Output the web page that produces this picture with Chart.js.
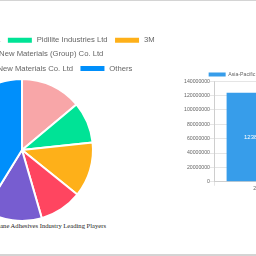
<!DOCTYPE html>
<html lang="en">
<head>
<meta charset="UTF-8">
<title>Polyurethane Adhesives Industry Leading Players</title>
<style>
  body { margin: 0; width: 256px; height: 256px; overflow: hidden; background: #fff; position: relative; }
  .frame { position: absolute; left: 0; top: 0; width: 256px; height: 253px; border-top: 1px solid #d4d4d4; border-bottom: 2px solid #d4d4d4; }
  #pieChart { position: absolute; left: -128px; top: 30px; }
  #barChart { position: absolute; left: 160px; top: 68px; }
  .caption { position: absolute; right: 150px; top: 222px; font: 6.6px 'Liberation Serif', 'Times New Roman', serif; color: #222; white-space: nowrap; }
</style>
</head>
<body>
  <div class="frame"></div>
  <canvas id="pieChart" width="300" height="192"></canvas>
  <div class="caption">Polyurethane Adhesives Industry Leading Players</div>
  <canvas id="barChart" width="144" height="124"></canvas>

  <script src="https://cdn.jsdelivr.net/npm/chart.js"></script>
  <script>
    // leading players (pie)
    const players = ['Henkel AG & Co. KGaA', 'Pidilite Industries Ltd', '3M',
      'Kangda New Materials (Group) Co. Ltd', 'Beijing Comens New Materials Co. Ltd', 'Others'];
    const shares = [13.9, 9.4, 12.5, 9.7, 13.3, 41.2];
    const playerColors = ['#F8A6A8', '#00E396', '#FEB019', '#FF4560', '#775DD0', '#008FFB'];

    // regional market (bar)
    const years = ['2024'];
    const regionName = 'Asia-Pacific';
    const marketSize = [123800000];
    const yMax = 140000000;
    const yStep = 20000000;

    Chart.defaults.font.family = "'Liberation Sans', Arial, sans-serif";
    Chart.defaults.color = '#666';

    // legend box is a bit shorter than chart.js makes it
    function legendTrim(px) {
      return {
        id: 'legendTrim',
        beforeLayout(chart) {
          const lg = chart.legend;
          if (lg && !lg._trimmed) {
            const fit = lg.fit.bind(lg);
            lg.fit = function () { fit(); this.height -= px; };
            lg._trimmed = true;
          }
        }
      };
    }

    const barValues = {
      id: 'barValues',
      afterDatasetsDraw(chart) {
        const ctx = chart.ctx;
        const ds = chart.data.datasets[0];
        chart.getDatasetMeta(0).data.forEach((bar, i) => {
          ctx.save();
          ctx.fillStyle = '#fff';
          ctx.font = "6px 'Liberation Sans', Arial, sans-serif";
          ctx.textAlign = 'center';
          ctx.textBaseline = 'middle';
          ctx.fillText(String(ds.data[i]), bar.x, (bar.y + bar.base) / 2);
          ctx.restore();
        });
      }
    };

    new Chart(document.getElementById('pieChart'), {
      type: 'pie',
      data: {
        labels: players,
        datasets: [{
          data: shares,
          backgroundColor: playerColors,
          borderColor: '#fff',
          borderWidth: 2
        }]
      },
      options: {
        responsive: false,
        animation: false,
        plugins: {
          legend: {
            labels: { boxWidth: 26, boxHeight: 7, padding: 6.4, font: { size: 7.7 } }
          },
          tooltip: { enabled: false }
        }
      },
      plugins: [legendTrim(4.3)]
    });

    new Chart(document.getElementById('barChart'), {
      type: 'bar',
      data: {
        labels: years,
        datasets: [{
          label: regionName,
          data: marketSize,
          backgroundColor: '#379DEA',
          borderWidth: 0
        }]
      },
      options: {
        responsive: false,
        animation: false,
        plugins: {
          legend: {
            labels: { boxWidth: 17, boxHeight: 4, padding: 4, font: { size: 5.2 } }
          },
          tooltip: { enabled: false }
        },
        scales: {
          x: {
            grid: { tickLength: 4, color: 'rgba(0,0,0,0.1)' },
            ticks: { font: { size: 5.2 }, padding: 0 }
          },
          y: {
            min: 0,
            max: yMax,
            grid: { tickLength: 4, color: 'rgba(0,0,0,0.1)' },
            ticks: { stepSize: yStep, font: { size: 5.2 }, padding: 0, callback: v => String(v) },
            afterFit(scale) { scale.width = 54; }
          }
        }
      },
      plugins: [legendTrim(6), barValues]
    });
  </script>
</body>
</html>
